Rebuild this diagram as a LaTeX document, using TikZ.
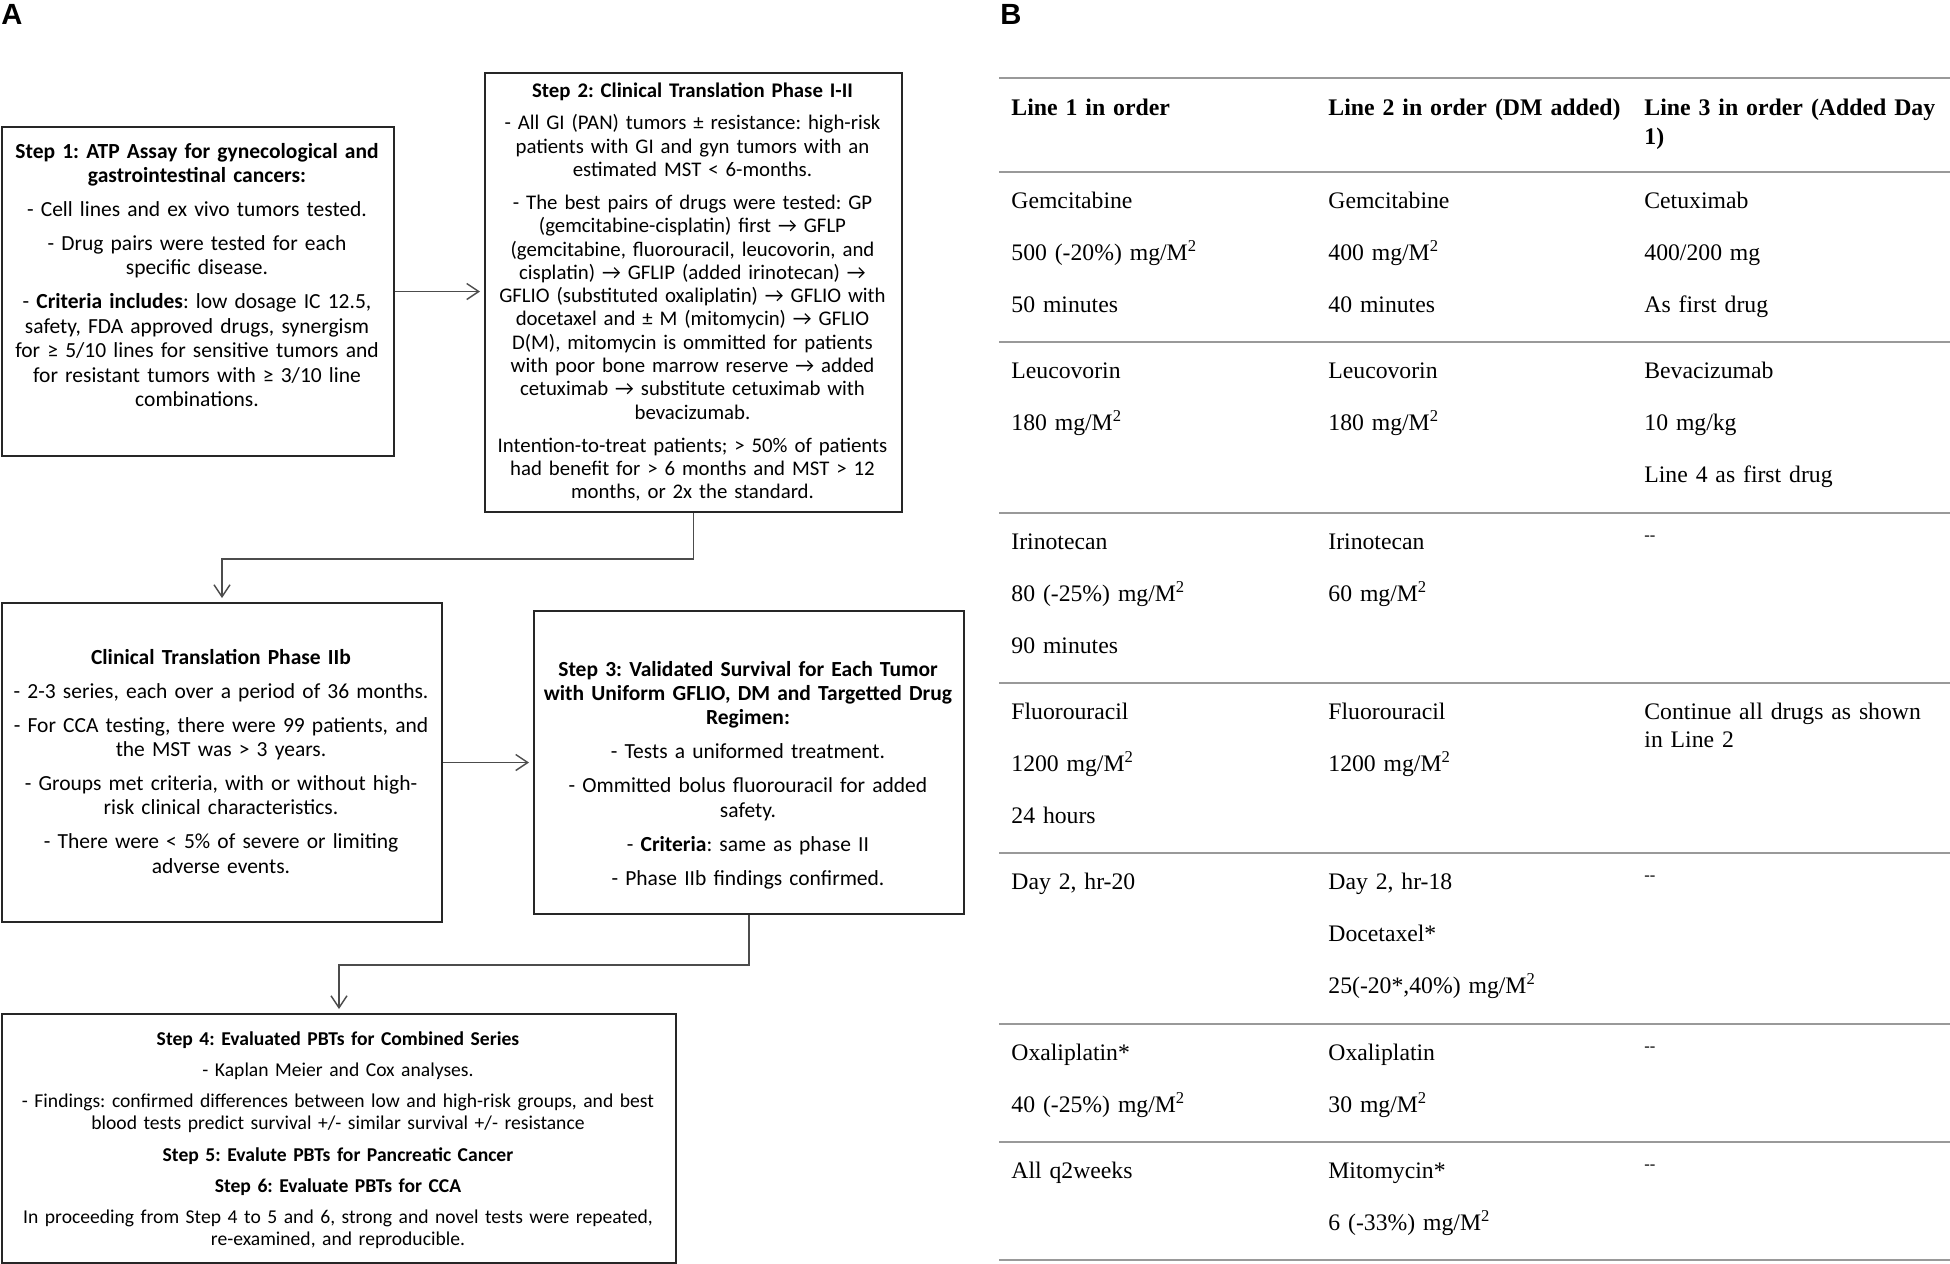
\documentclass[tikz,border=0pt]{standalone}
\usepackage{fontspec}
\setmainfont{Liberation Serif}
\newfontfamily\boxfont{Carlito}
\newfontfamily\panelfont{Liberation Sans}
\usetikzlibrary{arrows.meta}
\frenchspacing
\newcommand{\pgap}{\\[4.8pt]}
\newcommand{\rsep}{\\[12pt]}
\newcommand{\sq}{\textsuperscript{2}}
\newcommand{\nil}{\textsuperscript{-{}-}}

\begin{document}
\begin{tikzpicture}[x=0.5pt,y=0.5pt,yscale=-1,xscale=1,
	stepbox/.style={draw=black!85,line width=1pt,inner sep=0pt,anchor=north west},
	steptext/.style={inner sep=0pt,anchor=base,align=center,font=\boxfont\frenchspacing\fontsize{10.75}{12.2}\selectfont},
	flow/.style={draw=black!70,line width=0.7pt,shorten >=2pt,-{Straight Barb[length=6pt,width=8pt]}},
	rule/.style={draw=black!40,line width=0.9pt},
	cell/.style={inner sep=0pt,anchor=base west,align=left,text width=158pt,font=\fontsize{11.85}{14}\selectfont},
	head/.style={cell,font=\bfseries\fontsize{11.9}{14.5}\selectfont},
	panel/.style={inner sep=0pt,anchor=base west,font=\panelfont\bfseries\fontsize{14.6}{16}\selectfont}]
	\useasboundingbox (0,0) rectangle (1950,1264);
	
	% Text Node
	\node[panel] (pa) at (1,24) {A};
	% Text Node
	\node[panel] (pb) at (1000,24) {B};
	
	%Shape: Rectangle
	\node[stepbox,minimum width=196pt,minimum height=164.5pt] (s1) at (1,126) {};
	%Shape: Rectangle
	\node[stepbox,minimum width=208.5pt,minimum height=219.5pt] (s2) at (484,72) {};
	%Shape: Rectangle
	\node[stepbox,minimum width=220pt,minimum height=159.5pt] (s3) at (1,602) {};
	%Shape: Rectangle
	\node[stepbox,minimum width=215pt,minimum height=151.5pt] (s4) at (533,610) {};
	%Shape: Rectangle
	\node[stepbox,minimum width=337pt,minimum height=124.5pt] (s5) at (1,1013) {};
	
	% Text Node
	\node[steptext,text width=194pt] (t1) at (197,158) {\textbf{Step 1: ATP Assay for gynecological and}\\
		\textbf{gastrointestinal cancers:}\pgap
		- Cell lines and ex vivo tumors tested.\pgap
		- Drug pairs were tested for each\\
		specific disease.\pgap
		- \textbf{Criteria includes}: low dosage IC 12.5,\\
		safety, FDA approved drugs, synergism\\
		for ≥ 5/10 lines for sensitive tumors and\\
		for resistant tumors with ≥ 3/10 line\\
		combinations.};
	% Text Node
	\node[steptext,text width=207pt,font=\boxfont\frenchspacing\fontsize{10.4}{11.65}\selectfont] (t2) at (692.5,97) {\textbf{Step 2: Clinical Translation Phase I-II}\pgap
		- All GI (PAN) tumors ± resistance: high-risk\\
		patients with GI and gyn tumors with an\\
		estimated MST < 6-months.\pgap
		- The best pairs of drugs were tested: GP\\
		(gemcitabine-cisplatin) first → GFLP\\
		(gemcitabine, fluorouracil, leucovorin, and\\
		cisplatin) → GFLIP (added irinotecan) →\\
		GFLIO (substituted oxaliplatin) → GFLIO with\\
		docetaxel and ± M (mitomycin) → GFLIO\\
		D(M), mitomycin is ommitted for patients\\
		with poor bone marrow reserve → added\\
		cetuximab → substitute cetuximab with\\
		bevacizumab.\pgap
		Intention-to-treat patients; > 50\% of patients\\
		had benefit for > 6 months and MST > 12\\
		months, or 2x the standard.};
	% Text Node
	\node[steptext,text width=219pt] (t3) at (221,664) {\textbf{Clinical Translation Phase IIb}\pgap
		- 2-3 series, each over a period of 36 months.\pgap
		- For CCA testing, there were 99 patients, and\\
		the MST was > 3 years.\pgap
		- Groups met criteria, with or without high-\\
		risk clinical characteristics.\pgap
		- There were < 5\% of severe or limiting\\
		adverse events.};
	% Text Node
	\node[steptext,text width=214pt] (t4) at (748,676) {\textbf{Step 3: Validated Survival for Each Tumor}\\
		\textbf{with Uniform GFLIO, DM and Targetted Drug}\\
		\textbf{Regimen:}\pgap
		- Tests a uniformed treatment.\pgap
		- Ommitted bolus fluorouracil for added\\
		safety.\pgap
		- \textbf{Criteria}: same as phase II\pgap
		- Phase IIb findings confirmed.};
	% Text Node
	\node[steptext,text width=336pt,font=\boxfont\frenchspacing\fontsize{9.8}{11.35}\selectfont] (t5) at (338,1045) {\textbf{Step 4: Evaluated PBTs for Combined Series}\\[4.2pt]
		- Kaplan Meier and Cox analyses.\\[4.2pt]
		- Findings: confirmed differences between low and high-risk groups, and best\\
		blood tests predict survival +/- similar survival +/- resistance\\[4.2pt]
		\textbf{Step 5: Evalute PBTs for Pancreatic Cancer}\\[4.2pt]
		\textbf{Step 6: Evaluate PBTs for CCA}\\[4.2pt]
		In proceeding from Step 4 to 5 and 6, strong and novel tests were repeated,\\
		re-examined, and reproducible.};
	
	%Straight Lines
	\draw[flow] (s1.east) -- (s1.east -| s2.west);
	\draw[flow] (s2.south) -- ++(0,46) -| (s3.north);
	\draw[flow] (s3.east) -- (s3.east -| s4.west);
	\draw[flow] (s4.south) -- ++(0,50) -| (s5.north);
	
	%Straight Lines
	\draw[rule] (999,78) -- (1950,78);
	\draw[rule] (999,172) -- (1950,172);
	\draw[rule] (999,342) -- (1950,342);
	\draw[rule] (999,513) -- (1950,513);
	\draw[rule] (999,683) -- (1950,683);
	\draw[rule] (999,853) -- (1950,853);
	\draw[rule] (999,1024) -- (1950,1024);
	\draw[rule] (999,1142) -- (1950,1142);
	\draw[rule] (999,1260) -- (1950,1260);
	
	% Text Node
	\node[head] (h1) at (1011,115) {Line 1 in order};
	\node[head] (h2) at (1328,115) {Line 2 in order (DM added)};
	\node[head] (h3) at (1644,115) {Line 3 in order (Added Day\\1)};
	% Text Node
	\node[cell] (a1) at (1011,208) {Gemcitabine\rsep 500 (-20\%) mg/M\sq\rsep 50 minutes};
	\node[cell] (a2) at (1328,208) {Gemcitabine\rsep 400 mg/M\sq\rsep 40 minutes};
	\node[cell] (a3) at (1644,208) {Cetuximab\rsep 400/200 mg\rsep As first drug};
	% Text Node
	\node[cell] (b1) at (1011,378) {Leucovorin\rsep 180 mg/M\sq};
	\node[cell] (b2) at (1328,378) {Leucovorin\rsep 180 mg/M\sq};
	\node[cell] (b3) at (1644,378) {Bevacizumab\rsep 10 mg/kg\rsep Line 4 as first drug};
	% Text Node
	\node[cell] (c1) at (1011,549) {Irinotecan\rsep 80 (-25\%) mg/M\sq\rsep 90 minutes};
	\node[cell] (c2) at (1328,549) {Irinotecan\rsep 60 mg/M\sq};
	\node[cell] (c3) at (1644,549) {\nil};
	% Text Node
	\node[cell] (d1) at (1011,719) {Fluorouracil\rsep 1200 mg/M\sq\rsep 24 hours};
	\node[cell] (d2) at (1328,719) {Fluorouracil\rsep 1200 mg/M\sq};
	\node[cell] (d3) at (1644,719) {Continue all drugs as shown\\in Line 2};
	% Text Node
	\node[cell] (e1) at (1011,889) {Day 2, hr-20};
	\node[cell] (e2) at (1328,889) {Day 2, hr-18\rsep Docetaxel*\rsep 25(-20*,40\%) mg/M\sq};
	\node[cell] (e3) at (1644,889) {\nil};
	% Text Node
	\node[cell] (f1) at (1011,1060) {Oxaliplatin*\rsep 40 (-25\%) mg/M\sq};
	\node[cell] (f2) at (1328,1060) {Oxaliplatin\rsep 30 mg/M\sq};
	\node[cell] (f3) at (1644,1060) {\nil};
	% Text Node
	\node[cell] (g1) at (1011,1178) {All q2weeks};
	\node[cell] (g2) at (1328,1178) {Mitomycin*\rsep 6 (-33\%) mg/M\sq};
	\node[cell] (g3) at (1644,1178) {\nil};
\end{tikzpicture}
\end{document}
